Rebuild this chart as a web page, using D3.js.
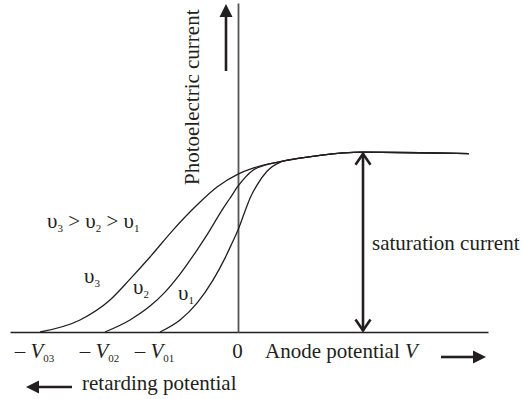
<!DOCTYPE html>
<html>
<head>
<meta charset="utf-8">
<script src="https://cdn.jsdelivr.net/npm/d3@7"></script>
<style>
  html, body { margin: 0; padding: 0; background: #fff; }
  svg text { font-family: 'Liberation Serif', 'DejaVu Serif', 'Times New Roman', Times, serif; }
</style>
</head>
<body>
<svg id="chart" width="523" height="399"></svg>
<script>
// Photoelectric current vs anode potential for three light frequencies
const frequencyLabels = ["3", "2", "1"];          // subscripts of υ
const stoppingPotentials = [3.96, 2.66, 1.56];     // V03, V02, V01
const stoppingLabels = ["03", "02", "01"];

const potentialNu3 = [-3.96, -3.16, -2.56, -2.16, -1.76, -1.30, -0.82, -0.42, 0, 0.30, 0.78, 1.24, 1.64, 2.50, 3.64, 4.62];
const currentNu3   = [0, 0.67, 1.78, 2.94, 4.17, 5.67, 7.06, 8.06, 8.78, 9.11, 9.44, 9.67, 9.83, 10, 9.97, 9.92];

const potentialNu2 = [-2.66, -2.16, -1.76, -1.46, -1.16, -0.82, -0.56, -0.32, -0.16, 0, 0.30, 0.54, 0.78, 1.24, 1.64, 2.50, 3.64, 4.62];
const currentNu2   = [0, 0.67, 1.44, 2.22, 3.22, 4.56, 5.67, 6.78, 7.44, 8.11, 9.0, 9.28, 9.44, 9.67, 9.83, 10, 9.97, 9.92];

const potentialNu1 = [-1.56, -1.16, -0.82, -0.50, -0.26, -0.12, 0, 0.14, 0.24, 0.38, 0.58, 0.84, 1.24, 1.64, 2.50, 3.64, 4.62];
const currentNu1   = [0, 0.67, 1.61, 2.89, 4.11, 4.94, 5.67, 6.72, 7.44, 8.17, 8.94, 9.44, 9.67, 9.83, 10, 9.97, 9.92];

const saturationCurrent = 10;
const saturationPotential = 2.50;

const seriesList = [
  { sub: frequencyLabels[0], xs: potentialNu3, ys: currentNu3 },
  { sub: frequencyLabels[1], xs: potentialNu2, ys: currentNu2 },
  { sub: frequencyLabels[2], xs: potentialNu1, ys: currentNu1 }
];

const FONT = "'Liberation Serif', 'DejaVu Serif', 'Times New Roman', Times, serif";
const svg = d3.select("#chart");
const ink = "#231f20";
const FS = 21;

function addText(parent) {
  return parent.append("text").attr("font-family", FONT).attr("fill", ink).attr("font-size", FS);
}

const x = d3.scaleLinear().domain([-4.56, 5.0]).range([10, 488]);
const y = d3.scaleLinear().domain([0, 18.3]).range([332, 3]);

// horizontal (potential) axis with stopping-potential labels
const xAxis = d3.axisBottom(x)
  .tickValues(stoppingPotentials.map(v => -v).concat([0]))
  .tickSize(0)
  .tickPadding(0)
  .tickFormat(() => "");
const gx = svg.append("g").attr("transform", `translate(0,${y(0)})`).call(xAxis);
gx.attr("font-family", FONT);
gx.select(".domain").attr("stroke", ink).attr("stroke-width", 1.4);
gx.selectAll(".tick text").remove();
gx.selectAll(".tick").each(function (d) {
  const t = addText(d3.select(this))
    .attr("text-anchor", "middle")
    .attr("y", 26).attr("x", d === 0 ? -1 : -6);
  const i = stoppingPotentials.findIndex(v => -v === d);
  if (i < 0) { t.text("0"); return; }
  t.append("tspan").text("– ");
  t.append("tspan").attr("font-style", "italic").text("V");
  t.append("tspan").attr("font-size", 11).attr("dy", 4).text(stoppingLabels[i]);
});

// vertical (current) axis
const yAxis = d3.axisLeft(y).tickValues([]).tickSizeOuter(0);
const gy = svg.append("g").attr("transform", `translate(${x(0)},0)`).call(yAxis);
gy.select(".domain").attr("stroke", "#555").attr("stroke-width", 1.8);

// current curves
const line = d3.line().x(d => x(d[0])).y(d => y(d[1])).curve(d3.curveMonotoneX);
svg.append("g").selectAll("path")
  .data(seriesList)
  .join("path")
  .attr("d", s => line(d3.zip(s.xs, s.ys)))
  .attr("fill", "none")
  .attr("stroke", ink)
  .attr("stroke-width", 1.3);

// helper: υ with a subscript
function nuText(px, py, sub) {
  const t = addText(svg).attr("x", px).attr("y", py);
  t.append("tspan").text("υ");
  t.append("tspan").attr("font-size", 11).attr("dy", 4).text(sub);
  return t;
}

// curve labels
const curveLabelPos = [[84, 283], [133, 294], [178, 300]];
seriesList.forEach((s, i) => nuText(curveLabelPos[i][0], curveLabelPos[i][1], s.sub));

// ordering statement
const ord = addText(svg).attr("x", 47).attr("y", 228);
frequencyLabels.forEach((f, i) => {
  ord.append("tspan").attr("dy", i === 0 ? 0 : -4).text((i === 0 ? "" : " > ") + "υ");
  ord.append("tspan").attr("font-size", 11).attr("dy", 4).text(f);
});

// axis titles
addText(svg)
  .attr("transform", "translate(199,185) rotate(-90)")
  .text("Photoelectric current");

const an = addText(svg).attr("x", 265).attr("y", 358);
an.append("tspan").text("Anode potential ");
an.append("tspan").attr("font-style", "italic").text("V");

addText(svg).attr("x", 82).attr("y", 390).text("retarding potential");

addText(svg).attr("x", 372).attr("y", 250).text("saturation current");

// filled-head arrows
function filledArrow(x1, y1, x2, y2) {
  const ang = Math.atan2(y2 - y1, x2 - x1);
  const L = 13, W = 6.5;
  const bx = x2 - L * Math.cos(ang), by = y2 - L * Math.sin(ang);
  svg.append("line").attr("x1", x1).attr("y1", y1).attr("x2", bx).attr("y2", by)
    .attr("stroke", ink).attr("stroke-width", 2.6);
  const px = -Math.sin(ang) * W, py = Math.cos(ang) * W;
  svg.append("path")
    .attr("d", `M${x2},${y2}L${bx + px},${by + py}L${bx - px},${by - py}Z`)
    .attr("fill", ink);
}
filledArrow(226, 71, 226, 4);      // current direction
filledArrow(441, 357, 486, 357);   // anode potential direction
filledArrow(72, 387, 26, 387);     // retarding direction

// saturation current double arrow with open heads
const sx = x(saturationPotential);
const sTop = y(saturationCurrent) + 1.5, sBot = y(0) - 1.5;
svg.append("line").attr("x1", sx).attr("x2", sx).attr("y1", sTop).attr("y2", sBot)
  .attr("stroke", ink).attr("stroke-width", 2.6);
svg.append("path")
  .attr("d", `M${sx - 7.5},${sTop + 11}L${sx},${sTop}L${sx + 7.5},${sTop + 11}`)
  .attr("fill", "none").attr("stroke", ink).attr("stroke-width", 2.6);
svg.append("path")
  .attr("d", `M${sx - 7.5},${sBot - 11}L${sx},${sBot}L${sx + 7.5},${sBot - 11}`)
  .attr("fill", "none").attr("stroke", ink).attr("stroke-width", 2.6);
</script>
</body>
</html>
